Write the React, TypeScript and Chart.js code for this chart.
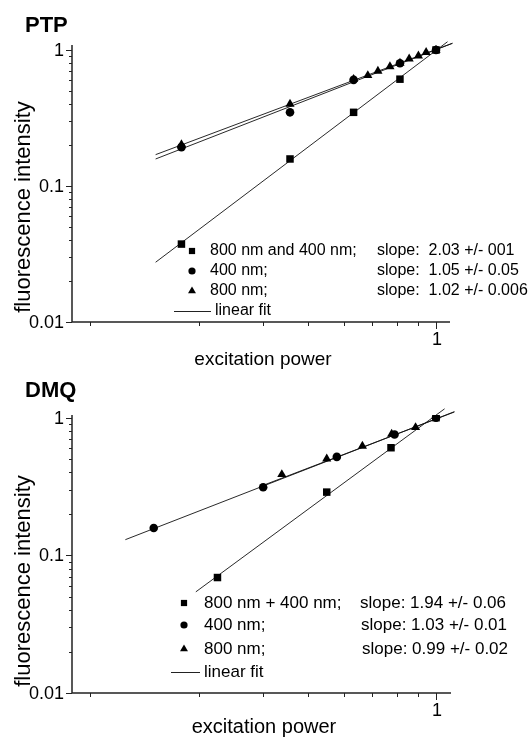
import React, { useEffect, useRef } from 'react';
import { Chart, registerables } from 'chart.js';

Chart.register(...registerables);

const FONT = '"Liberation Sans", Arial, Helvetica, sans-serif';

// ---------------- PTP panel data ----------------
const ptpMixPower = [0.198, 0.395, 0.592, 0.795, 1];
const ptpMixIntensity = [0.0374, 0.158, 0.348, 0.61, 1];
const ptp400Power = [0.198, 0.395, 0.592, 0.795, 1];
const ptp400Intensity = [0.193, 0.348, 0.603, 0.799, 1];
const ptp800Power = [0.198, 0.395, 0.592, 0.648, 0.691, 0.746, 0.795, 0.843, 0.894, 0.939, 1];
const ptp800Intensity = [0.2015, 0.4, 0.61, 0.65, 0.7, 0.755, 0.8, 0.86, 0.905, 0.96, 1];
const ptpFitMixPower = [0.168, 1.076];
const ptpFitMixIntensity = [0.0275, 1.15];
const ptpFit400Power = [0.168, 1.11];
const ptpFit400Intensity = [0.158, 1.12];
const ptpFit800Power = [0.168, 1.11];
const ptpFit800Intensity = [0.17, 1.12];
const ptpLegendLabels = ['800 nm and 400 nm;', '400 nm;', '800 nm;', 'linear fit'];
const ptpSlopeLabels = ['slope:  2.03 +/- 001', 'slope:  1.05 +/- 0.05', 'slope:  1.02 +/- 0.006'];

// ---------------- DMQ panel data ----------------
const dmqMixPower = [0.249, 0.499, 0.751, 1];
const dmqMixIntensity = [0.069, 0.288, 0.605, 1];
const dmq400Power = [0.166, 0.333, 0.532, 0.768, 1];
const dmq400Intensity = [0.158, 0.312, 0.519, 0.754, 1];
const dmq800Power = [0.375, 0.499, 0.626, 0.754, 0.878];
const dmq800Intensity = [0.387, 0.503, 0.622, 0.759, 0.849];
const dmqFitMixPower = [0.217, 1.056];
const dmqFitMixIntensity = [0.0543, 1.16];
const dmqFit400Power = [0.1386, 1.124];
const dmqFit400Intensity = [0.13, 1.106];
const dmqFit800Power = [0.3345, 1.124];
const dmqFit800Intensity = [0.324, 1.1];
const dmqLegendLabels = ['800 nm + 400 nm;', '400 nm;', '800 nm;', 'linear fit'];
const dmqSlopeLabels = ['slope: 1.94 +/- 0.06', 'slope: 1.03 +/- 0.01', 'slope: 0.99 +/- 0.02'];

// ---------------- axis ticks ----------------
const yMajorTicks = [0.01, 0.1, 1];
const yMajorLabels = ['0.01', '0.1', '1'];
const yMinorTicks = [0.02, 0.03, 0.04, 0.05, 0.06, 0.07, 0.08, 0.09, 0.2, 0.3, 0.4, 0.5, 0.6, 0.7, 0.8, 0.9];
const xMajorTicks = [1];
const xMajorLabels = ['1'];
const xMinorTicks = [0.111, 0.222, 0.333, 0.444, 0.556, 0.667, 0.778, 0.889];

const zip = (xs: number[], ys: number[]) => xs.map((x, i) => ({ x, y: ys[i] }));

type PanelSpec = {
  title: string;
  mix: [number[], number[]];
  d400: [number[], number[]];
  d800: [number[], number[]];
  fitMix: [number[], number[]];
  fit400: [number[], number[]];
  fit800: [number[], number[]];
  legend: string[];
  slopes: string[];
  layout: any;
};

function drawMarker(ctx: CanvasRenderingContext2D, shape: string, x: number, y: number, r: number) {
  ctx.beginPath();
  if (shape === 'rect') {
    const s = Math.SQRT1_2 * r;
    ctx.rect(x - s, y - s, 2 * s, 2 * s);
  } else if (shape === 'circle') {
    ctx.arc(x, y, r, 0, Math.PI * 2);
  } else {
    let rad = 0;
    ctx.moveTo(x + Math.sin(rad) * r, y - Math.cos(rad) * r);
    rad += (2 * Math.PI) / 3;
    ctx.lineTo(x + Math.sin(rad) * r, y - Math.cos(rad) * r);
    rad += (2 * Math.PI) / 3;
    ctx.lineTo(x + Math.sin(rad) * r, y - Math.cos(rad) * r);
    ctx.closePath();
  }
  ctx.fill();
}

function makeDecor(p: PanelSpec) {
  const L = p.layout;
  return {
    id: 'decor',
    afterDraw(chart: any) {
      const { ctx, chartArea, scales } = chart;
      const xs = scales.x;
      const ys = scales.y;
      ctx.save();
      ctx.fillStyle = '#000';
      ctx.strokeStyle = '#222';
      // axis lines
      ctx.lineWidth = 1.5;
      ctx.beginPath();
      ctx.moveTo(chartArea.left, chartArea.top);
      ctx.lineTo(chartArea.left, chartArea.bottom);
      ctx.lineTo(chartArea.right, chartArea.bottom);
      ctx.stroke();
      // ticks
      ctx.lineWidth = 1;
      ctx.beginPath();
      yMinorTicks.forEach((v) => {
        const py = Math.round(ys.getPixelForValue(v)) + 0.5;
        ctx.moveTo(chartArea.left - 3, py);
        ctx.lineTo(chartArea.left, py);
      });
      yMajorTicks.forEach((v) => {
        const py = Math.round(ys.getPixelForValue(v)) + 0.5;
        ctx.moveTo(chartArea.left - 6, py);
        ctx.lineTo(chartArea.left, py);
      });
      xMinorTicks.forEach((v) => {
        const px = Math.round(xs.getPixelForValue(v)) + 0.5;
        ctx.moveTo(px, chartArea.bottom);
        ctx.lineTo(px, chartArea.bottom + 4);
      });
      xMajorTicks.forEach((v) => {
        const px = Math.round(xs.getPixelForValue(v)) + 0.5;
        ctx.moveTo(px, chartArea.bottom);
        ctx.lineTo(px, chartArea.bottom + 7);
      });
      ctx.stroke();
      // tick labels
      ctx.font = `${L.tickFont}px ${FONT}`;
      ctx.textAlign = 'right';
      ctx.textBaseline = 'middle';
      yMajorTicks.forEach((v, i) => {
        ctx.fillText(yMajorLabels[i], chartArea.left - 8, ys.getPixelForValue(v) + 1);
      });
      ctx.textAlign = 'center';
      ctx.textBaseline = 'alphabetic';
      xMajorTicks.forEach((v, i) => {
        ctx.fillText(xMajorLabels[i], xs.getPixelForValue(v) + 1, chartArea.bottom + L.xLabelDy);
      });
      // panel title
      ctx.font = `bold ${L.titleFont}px ${FONT}`;
      ctx.textAlign = 'left';
      ctx.fillText(p.title, L.titleX, L.titleY);
      // axis titles
      ctx.font = `${L.xTitleFont}px ${FONT}`;
      ctx.textAlign = 'center';
      ctx.fillText('excitation power', L.xTitleX, L.xTitleY);
      ctx.save();
      ctx.translate(L.yTitleX, L.yTitleY);
      ctx.rotate(-Math.PI / 2);
      ctx.font = `${L.yTitleFont}px ${FONT}`;
      ctx.textBaseline = 'middle';
      ctx.fillText('fluorescence intensity', 0, 0);
      ctx.restore();
      // legend
      ctx.font = `${L.legendFont}px ${FONT}`;
      ctx.textAlign = 'left';
      ctx.textBaseline = 'middle';
      const shapes = ['rect', 'circle', 'triangle'];
      const radii = [4.4, 3.6, 4.6];
      for (let i = 0; i < 3; i++) {
        const yy = L.legendRows[i];
        drawMarker(ctx, shapes[i], L.legendMarkerX, yy, radii[i]);
        ctx.fillText(p.legend[i], L.legendTextX, yy);
        ctx.fillText(p.slopes[i], L.slopeX[i], yy);
      }
      const yl = L.legendRows[3];
      ctx.lineWidth = 1;
      ctx.beginPath();
      ctx.moveTo(L.fitLine[0], Math.round(yl) + 0.5);
      ctx.lineTo(L.fitLine[1], Math.round(yl) + 0.5);
      ctx.stroke();
      ctx.fillText(p.legend[3], L.fitTextX, yl);
      ctx.restore();
    },
  };
}

const H = 369;

const ptpSpec: PanelSpec = {
  title: 'PTP',
  mix: [ptpMixPower, ptpMixIntensity],
  d400: [ptp400Power, ptp400Intensity],
  d800: [ptp800Power, ptp800Intensity],
  fitMix: [ptpFitMixPower, ptpFitMixIntensity],
  fit400: [ptpFit400Power, ptpFit400Intensity],
  fit800: [ptpFit800Power, ptpFit800Intensity],
  legend: ptpLegendLabels,
  slopes: ptpSlopeLabels,
  layout: {
    top: 45, bottom: 322, left: 72, right: 450,
    xMin: 0.0987, xMax: 1.093, yMax: 1.088,
    tickFont: 18, xLabelDy: 23,
    titleFont: 22, titleX: 25, titleY: 32,
    xTitleFont: 19, xTitleX: 263, xTitleY: 365,
    yTitleFont: 22, yTitleX: 24, yTitleY: 207,
    legendFont: 16, legendRows: [251, 271, 291, 311],
    legendMarkerX: 192, legendTextX: 210, slopeX: [377, 377, 377],
    fitLine: [174, 211], fitTextX: 215,
  },
};

const dmqSpec: PanelSpec = {
  title: 'DMQ',
  mix: [dmqMixPower, dmqMixIntensity],
  d400: [dmq400Power, dmq400Intensity],
  d800: [dmq800Power, dmq800Intensity],
  fitMix: [dmqFitMixPower, dmqFitMixIntensity],
  fit400: [dmqFit400Power, dmqFit400Intensity],
  fit800: [dmqFit800Power, dmqFit800Intensity],
  legend: dmqLegendLabels,
  slopes: dmqSlopeLabels,
  layout: {
    top: 46, bottom: 324, left: 72, right: 451,
    xMin: 0.0987, xMax: 1.1, yMax: 1.046,
    tickFont: 18, xLabelDy: 23,
    titleFont: 22, titleX: 25, titleY: 28,
    xTitleFont: 20, xTitleX: 264, xTitleY: 364,
    yTitleFont: 22, yTitleX: 24, yTitleY: 212,
    legendFont: 17, legendRows: [234, 256, 280, 303],
    legendMarkerX: 184, legendTextX: 204, slopeX: [360, 361, 362],
    fitLine: [171, 200], fitTextX: 204,
  },
};

function Panel({ spec, top }: { spec: PanelSpec; top: number }) {
  const ref = useRef<HTMLCanvasElement | null>(null);
  useEffect(() => {
    const L = spec.layout;
    const pts = (d: [number[], number[]], shape: string, r: number) => ({
      data: zip(d[0], d[1]),
      pointStyle: shape,
      pointRadius: r,
      backgroundColor: '#000',
      borderColor: '#000',
      borderWidth: 0,
      showLine: false,
    });
    const fit = (d: [number[], number[]]) => ({
      data: zip(d[0], d[1]),
      showLine: true,
      borderColor: '#111',
      borderWidth: 0.9,
      pointRadius: 0,
      fill: false,
      clip: false,
    });
    const chart = new Chart(ref.current as HTMLCanvasElement, {
      type: 'scatter',
      data: {
        datasets: [
          pts(spec.d400, 'circle', 4.3),
          pts(spec.d800, 'triangle', 5.3),
          pts(spec.mix, 'rect', 5.3),
          fit(spec.fitMix),
          fit(spec.fit400),
          fit(spec.fit800),
        ] as any,
      },
      options: {
        animation: false,
        responsive: false,
        events: [],
        layout: { padding: { left: 0, top: L.top, right: 530 - L.right, bottom: 0 } },
        plugins: { legend: { display: false }, tooltip: { enabled: false } },
        scales: {
          x: {
            type: 'logarithmic',
            position: 'bottom',
            min: L.xMin,
            max: L.xMax,
            grid: { display: false, drawTicks: false },
            border: { display: false },
            ticks: { display: false },
            afterFit: (s: any) => { s.height = H - L.bottom; },
          },
          y: {
            type: 'logarithmic',
            position: 'left',
            min: 0.01,
            max: L.yMax,
            grid: { display: false, drawTicks: false },
            border: { display: false },
            ticks: { display: false },
            afterFit: (s: any) => { s.width = L.left; },
          },
        },
      } as any,
      plugins: [makeDecor(spec)],
    });
    return () => chart.destroy();
  }, [spec]);
  return (
    <canvas
      ref={ref}
      width={530}
      height={H}
      style={{ position: 'absolute', left: 0, top, width: 530, height: H, display: 'block' }}
    />
  );
}

export default function App() {
  return (
    <div style={{ position: 'absolute', left: 0, top: 0, width: 530, height: 738, background: '#fff' }}>
      <Panel spec={ptpSpec} top={0} />
      <Panel spec={dmqSpec} top={H} />
    </div>
  );
}
